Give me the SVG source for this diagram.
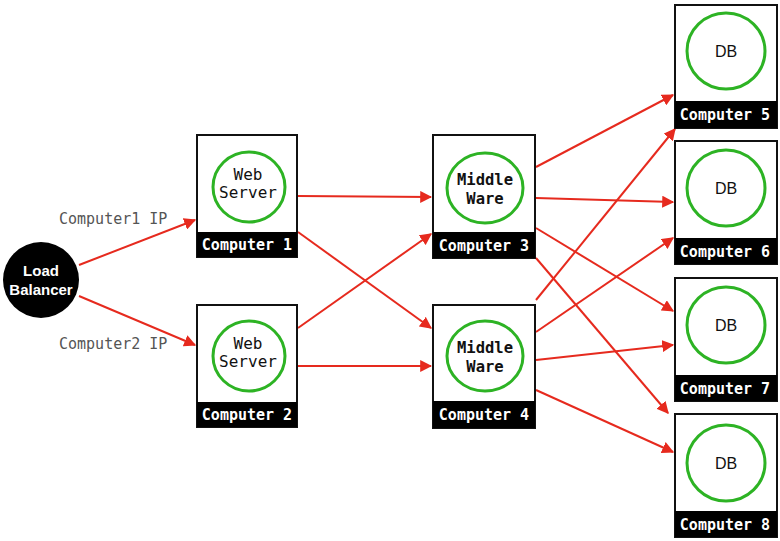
<svg xmlns="http://www.w3.org/2000/svg" width="780" height="541" viewBox="0 0 780 541">
<style>
.box{fill:#fff;stroke:#111;stroke-width:2}
.lbl{fill:#000}
.lt{font-family:"DejaVu Sans Mono","Liberation Mono",monospace;font-size:15px;font-weight:bold;fill:#fff;text-anchor:middle}
.ring{fill:none;stroke:#2db324;stroke-width:3}
.in{font-family:"DejaVu Sans Mono","Liberation Mono",monospace;font-size:16px;fill:#111;text-anchor:middle}
.inb{font-weight:bold;font-size:15.5px}
.db{font-family:"Liberation Sans",Arial,sans-serif;font-size:16px;fill:#111;text-anchor:middle}
.ip{font-family:"DejaVu Sans Mono","Liberation Mono",monospace;font-size:15px;fill:#555}
.conn line{stroke:#e62a1e;stroke-width:2;marker-end:url(#ah)}
</style>
<defs>
<marker id="ah" viewBox="0 0 10 10" refX="9" refY="5" markerWidth="6" markerHeight="6" orient="auto" markerUnits="strokeWidth">
<path d="M0,0 L10,5 L0,10 z" fill="#e62a1e"/>
</marker>
</defs>
<g class="conn">
<line x1="79" y1="265" x2="195" y2="220"/>
<line x1="79" y1="296" x2="195" y2="345"/>
<line x1="298" y1="196" x2="431" y2="197"/>
<line x1="298" y1="232" x2="431" y2="328"/>
<line x1="298" y1="328" x2="431" y2="234"/>
<line x1="298" y1="366" x2="431" y2="366"/>
<line x1="536" y1="167" x2="673" y2="95"/>
<line x1="536" y1="198" x2="673" y2="202"/>
<line x1="536" y1="228" x2="673" y2="311"/>
<line x1="536" y1="258" x2="668" y2="413"/>
<line x1="536" y1="300" x2="675" y2="129"/>
<line x1="536" y1="332" x2="673" y2="238"/>
<line x1="536" y1="360" x2="673" y2="345"/>
<line x1="536" y1="390" x2="673" y2="452"/>
</g>
<text class="ip" x="59" y="224">Computer1 IP</text>
<text class="ip" x="59" y="349">Computer2 IP</text>
<g id="lb">
<circle cx="41" cy="280" r="38" fill="#000"/>
<text x="41" y="276" font-family="Liberation Sans,Arial,sans-serif" font-size="15" font-weight="bold" fill="#fff" text-anchor="middle">Load</text>
<text x="41" y="295" font-family="Liberation Sans,Arial,sans-serif" font-size="15" font-weight="bold" fill="#fff" text-anchor="middle">Balancer</text>
</g>
<g id="c1">
<rect class="box" x="197" y="135" width="100" height="122"/>
<rect class="lbl" x="197" y="232" width="100" height="25"/>
<ellipse class="ring" cx="249" cy="187" rx="36" ry="35"/>
<text class="in" x="248" y="180">Web</text>
<text class="in" x="248" y="198">Server</text>
<text class="lt" x="247" y="250">Computer 1</text>
</g>
<g id="c2">
<rect class="box" x="197" y="305" width="100" height="122"/>
<rect class="lbl" x="197" y="402" width="100" height="25"/>
<ellipse class="ring" cx="249" cy="356" rx="36" ry="35"/>
<text class="in" x="248" y="349">Web</text>
<text class="in" x="248" y="367">Server</text>
<text class="lt" x="247" y="420">Computer 2</text>
</g>
<g id="c3">
<rect class="box" x="433" y="135" width="102" height="123"/>
<rect class="lbl" x="433" y="232" width="102" height="26"/>
<ellipse class="ring" cx="485" cy="188" rx="38" ry="35"/>
<text class="in inb" x="485" y="185">Middle</text>
<text class="in inb" x="485" y="204">Ware</text>
<text class="lt" x="484" y="251">Computer 3</text>
</g>
<g id="c4">
<rect class="box" x="433" y="305" width="102" height="123"/>
<rect class="lbl" x="433" y="401" width="102" height="27"/>
<ellipse class="ring" cx="485" cy="356" rx="38" ry="35"/>
<text class="in inb" x="485" y="353">Middle</text>
<text class="in inb" x="485" y="372">Ware</text>
<text class="lt" x="484" y="420">Computer 4</text>
</g>
<g id="c5">
<rect class="box" x="675" y="5" width="102" height="123"/>
<rect class="lbl" x="675" y="101" width="102" height="27"/>
<ellipse class="ring" cx="726" cy="51" rx="39" ry="38"/>
<text class="db" x="726" y="57">DB</text>
<text class="lt" x="725" y="120">Computer 5</text>
</g>
<g id="c6">
<rect class="box" x="675" y="141" width="102" height="123"/>
<rect class="lbl" x="675" y="238" width="102" height="26"/>
<ellipse class="ring" cx="726" cy="188" rx="39" ry="38"/>
<text class="db" x="726" y="194">DB</text>
<text class="lt" x="725" y="257">Computer 6</text>
</g>
<g id="c7">
<rect class="box" x="675" y="278" width="102" height="123"/>
<rect class="lbl" x="675" y="375" width="102" height="26"/>
<ellipse class="ring" cx="726" cy="325" rx="39" ry="38"/>
<text class="db" x="726" y="331">DB</text>
<text class="lt" x="725" y="394">Computer 7</text>
</g>
<g id="c8">
<rect class="box" x="675" y="414" width="102" height="123"/>
<rect class="lbl" x="675" y="511" width="102" height="26"/>
<ellipse class="ring" cx="726" cy="463" rx="39" ry="38"/>
<text class="db" x="726" y="469">DB</text>
<text class="lt" x="725" y="530">Computer 8</text>
</g>
</svg>
